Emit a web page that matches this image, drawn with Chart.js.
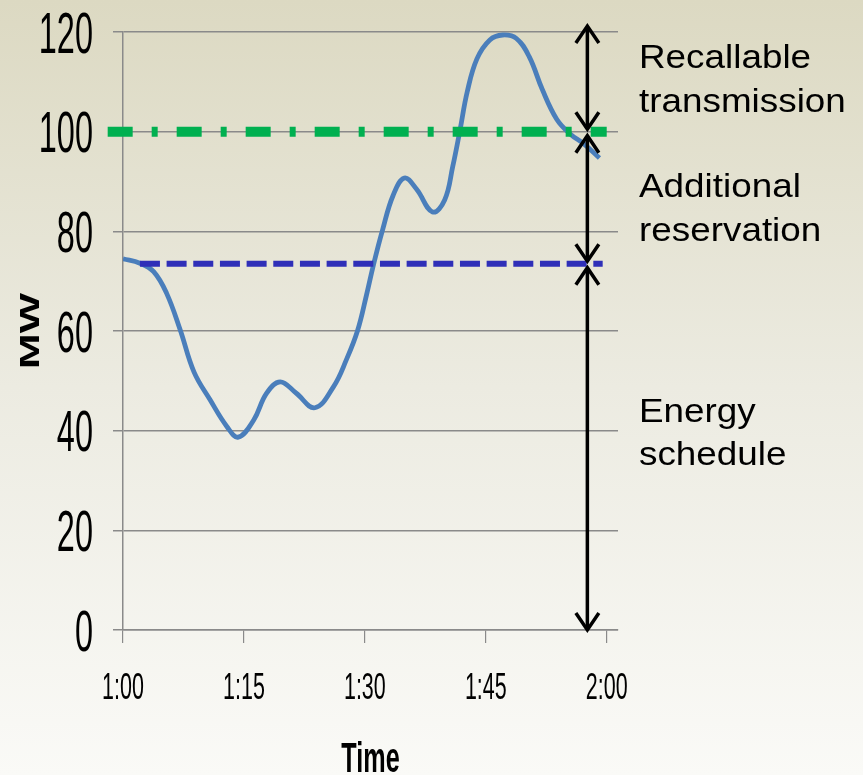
<!DOCTYPE html>
<html>
<head>
<meta charset="utf-8">
<script src="https://cdn.jsdelivr.net/npm/chart.js@4/dist/chart.umd.min.js"></script>
<style>
  html, body { margin: 0; padding: 0; background: #eeece3; }
  #wrap { width: 863px; height: 775px; }
  canvas { display: block; }
</style>
</head>
<body>
<div id="wrap"><canvas id="c" width="863" height="775"></canvas></div>
<script>
// ---- data (minutes after 1:00, MW) ----
const minutes = [0, 2.1, 3.8, 5.4, 7.1, 8.8, 10.8, 12.9, 14.3, 16.2, 17.8, 19.5, 21.5, 23.8, 26.1, 27.7, 29.1, 30.2, 31.1, 32.2, 33.5, 34.9, 36.4, 38.4, 39.9, 40.9, 41.8, 42.7, 43.9, 45.5, 47.1, 48.8, 50.4, 52.0, 53.8, 55.5, 57.2, 59.1];
const mw =      [74.5, 73.6, 71.9, 67.6, 60.2, 51.8, 46.2, 40.8, 38.7, 42.1, 47.5, 49.8, 47.5, 44.6, 48.8, 54.2, 60.1, 67.2, 73.5, 80.3, 87.2, 90.7, 88.5, 83.9, 86.3, 93.0, 100.3, 108.0, 114.6, 118.4, 119.4, 118.7, 115.0, 108.5, 102.5, 99.5, 97.5, 94.7];

const recallMinutes = [-1.9, 60];
const recallMW = [100, 100];
const scheduleMinutes = [2.1, 59.5];
const scheduleMW = [73.5, 73.5];

const xTickMinutes = [0, 15, 30, 45, 60];
const xTickLabels = ['1:00', '1:15', '1:30', '1:45', '2:00'];
const yTickValues = [0, 20, 40, 60, 80, 100, 120];

const bandEdges = [120, 100, 73.5, 0];
const arrowMinute = 57.6;
const bandLabels = [['Recallable', 'transmission'], ['Additional', 'reservation'], ['Energy', 'schedule']];
const bandLabelMW = [112.7, 86.8, 41.8];

const FONT = '"Liberation Sans", Arial, Helvetica, sans-serif';

function drawText(ctx, text, x, y, o) {
  ctx.save();
  ctx.translate(x, y);
  if (o.rot) ctx.rotate(o.rot);
  ctx.scale(o.sx || 1, o.sy || 1);
  ctx.font = (o.bold ? 'bold ' : '') + o.size + 'px ' + FONT;
  ctx.textAlign = o.align || 'center';
  ctx.textBaseline = 'alphabetic';
  ctx.fillStyle = '#000';
  ctx.fillText(text, 0, 0);
  ctx.restore();
}

const bgPlugin = {
  id: 'bg',
  beforeDraw(chart) {
    const ctx = chart.ctx;
    const g = ctx.createLinearGradient(0, 0, 0, chart.height);
    g.addColorStop(0, '#dcd9c2');
    g.addColorStop(0.5, '#ecebe1');
    g.addColorStop(1, '#fafaf7');
    ctx.save();
    ctx.fillStyle = g;
    ctx.fillRect(0, 0, chart.width, chart.height);
    ctx.restore();
  }
};

const labelsPlugin = {
  id: 'labels',
  afterDraw(chart) {
    const ctx = chart.ctx;
    const xs = chart.scales.x, ys = chart.scales.y;
    const area = chart.chartArea;
    // y tick labels (condensed)
    yTickValues.forEach(v => {
      const py = ys.getPixelForValue(v);
      drawText(ctx, String(v), 93, py + 0.358 * 58, { size: 58, sx: 0.56, align: 'right' });
    });
    // x tick labels
    xTickMinutes.forEach((m, i) => {
      const px = xs.getPixelForValue(m);
      drawText(ctx, xTickLabels[i], px, 699, { size: 37, sx: 0.58, align: 'center' });
    });
    // axis titles
    drawText(ctx, 'Time', (area.left + area.right) / 2, 772, { size: 42, bold: true, sx: 0.6 });
    drawText(ctx, 'MW', 39.4, (area.top + area.bottom) / 2, { size: 27, bold: true, rot: -Math.PI / 2, sx: 1.58 });

    // arrows
    const ax = xs.getPixelForValue(arrowMinute);
    ctx.save();
    ctx.strokeStyle = '#000';
    ctx.lineWidth = 3.5;
    ctx.lineJoin = 'miter';
    ctx.lineCap = 'butt';
    const last = bandEdges.length - 2;
    for (let i = 0; i < bandEdges.length - 1; i++) {
      const topPx = ys.getPixelForValue(bandEdges[i]);
      const botPx = ys.getPixelForValue(bandEdges[i + 1]);
      const t = i === 0 ? topPx - 6 : topPx + 4;
      const b = i === last ? botPx : botPx - 2.5;
      ctx.beginPath();
      ctx.moveTo(ax, t + 2);
      ctx.lineTo(ax, b - 2);
      ctx.stroke();
      ctx.beginPath();
      ctx.moveTo(ax - 11.5, t + 17);
      ctx.lineTo(ax, t);
      ctx.lineTo(ax + 11.5, t + 17);
      ctx.stroke();
      ctx.beginPath();
      ctx.moveTo(ax - 11.5, b - 17);
      ctx.lineTo(ax, b);
      ctx.lineTo(ax + 11.5, b - 17);
      ctx.stroke();
    }
    ctx.restore();

    // band labels
    bandLabels.forEach((lines, i) => {
      const by = ys.getPixelForValue(bandLabelMW[i]);
      lines.forEach((ln, j) => {
        drawText(ctx, ln, area.right + 21, by + j * 43.5, { size: 33.5, sx: 1.1, align: 'left' });
      });
    });
  }
};

const ctx = document.getElementById('c').getContext('2d');
new Chart(ctx, {
  type: 'line',
  data: {
    datasets: [
      {
        data: recallMinutes.map((m, i) => ({ x: m, y: recallMW[i] })),
        borderColor: '#00b050',
        borderWidth: 10,
        borderDash: [25, 19, 6, 19],
        borderCapStyle: 'butt',
        pointRadius: 0,
        tension: 0,
        clip: false
      },
      {
        data: scheduleMinutes.map((m, i) => ({ x: m, y: scheduleMW[i] })),
        borderColor: '#2f2fb8',
        borderWidth: 6,
        borderDash: [20, 6.67],
        borderCapStyle: 'butt',
        pointRadius: 0,
        tension: 0,
        clip: false
      },
      {
        data: minutes.map((m, i) => ({ x: m, y: mw[i] })),
        borderColor: '#4a7ebb',
        borderWidth: 4.8,
        pointRadius: 0,
        tension: 0.4,
        fill: false
      }
    ]
  },
  options: {
    responsive: false,
    animation: false,
    devicePixelRatio: 1,
    layout: { padding: { left: 0, right: 245, top: 32, bottom: 0 } },
    plugins: { legend: { display: false }, tooltip: { enabled: false }, title: { display: false } },
    scales: {
      x: {
        type: 'linear',
        min: 0,
        max: 61.4,
        afterBuildTicks: (axis) => { axis.ticks = xTickMinutes.map(v => ({ value: v })); },
        afterFit: (scale) => { scale.height = 145; },
        ticks: { display: false },
        grid: { drawOnChartArea: false, drawTicks: true, tickLength: 13, color: '#8a8a8a', lineWidth: 1.2 },
        border: { display: true, color: '#8a8a8a', width: 1.5 }
      },
      y: {
        min: 0,
        max: 120,
        afterBuildTicks: (axis) => { axis.ticks = yTickValues.map(v => ({ value: v })); },
        afterFit: (scale) => { scale.width = 123; },
        ticks: { display: false },
        grid: { drawTicks: true, tickLength: 10, color: '#8a8a8a', lineWidth: 1.5 },
        border: { display: true, color: '#8a8a8a', width: 1.5 }
      }
    }
  },
  plugins: [bgPlugin, labelsPlugin]
});
</script>
</body>
</html>
